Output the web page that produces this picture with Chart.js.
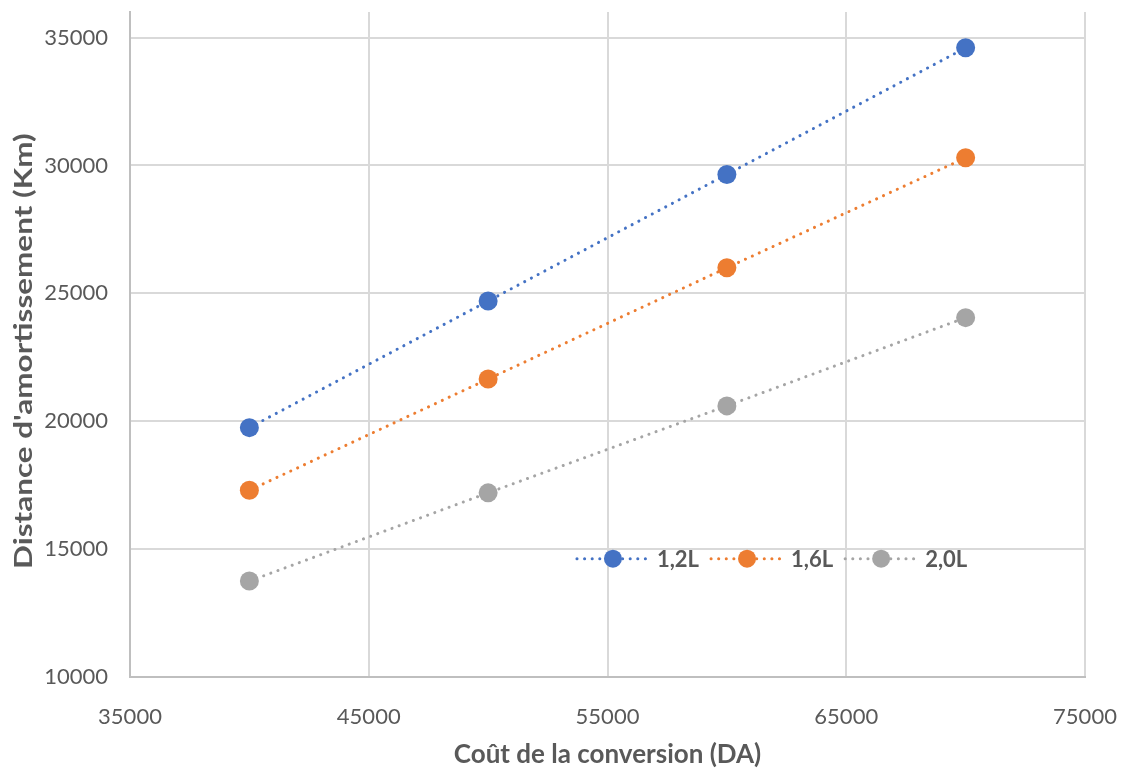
<!DOCTYPE html>
<html>
<head>
<meta charset="utf-8">
<script src="https://cdn.jsdelivr.net/npm/chart.js@4"></script>
<style>
  html, body { margin: 0; padding: 0; background: #fff; }
  #wrap { width: 1124px; height: 776px; }
</style>
</head>
<body>
<div id="wrap"><canvas id="chart" width="1124" height="776"></canvas></div>
<script>
// conversion cost (DA) and payback distance (Km) per engine size
var costs = [40000, 50000, 60000, 70000];
var dist12 = [19750, 24700, 29650, 34600];
var dist16 = [17300, 21650, 26000, 30300];
var dist20 = [13750, 17200, 20600, 24050];
var seriesNames = ['1,2L', '1,6L', '2,0L'];
var seriesColors = ['#4472C4', '#ED7D31', '#A5A5A5'];
var xTicks = [35000, 45000, 55000, 65000, 75000];
var yTicks = [10000, 15000, 20000, 25000, 30000, 35000];
var yTitle = "Distance d'amortissement (Km)";
var xTitle = 'Coût de la conversion (DA)';

var labelColor = '#595959';
var fontFamily = 'Lato, "Open Sans", sans-serif';

function pairs(ys) {
    return costs.map(function (c, i) { return { x: c, y: ys[i] }; });
}

function makeSet(name, ys, color) {
    return {
        label: name,
        data: pairs(ys),
        borderColor: color,
        backgroundColor: color,
        borderWidth: 3,
        borderDash: [0.1, 7.5],
        borderCapStyle: 'round',
        pointRadius: 9.5,
        pointBorderWidth: 0,
        pointBackgroundColor: color,
        showLine: true,
        tension: 0
    };
}

// legend drawn inside the plot, like the spreadsheet one
var insideLegend = {
    id: 'insideLegend',
    afterDatasetsDraw: function (chart) {
        var ctx = chart.ctx;
        var area = chart.chartArea;
        var y = area.top + area.height * 0.822;
        var x = area.left + area.width * 0.468;
        ctx.save();
        ctx.font = 'bold 22px ' + fontFamily;
        ctx.textBaseline = 'middle';
        chart.data.datasets.forEach(function (ds) {
            ctx.strokeStyle = ds.borderColor;
            ctx.lineWidth = 3;
            ctx.lineCap = 'round';
            ctx.setLineDash([0.1, 7.5]);
            ctx.beginPath();
            ctx.moveTo(x, y);
            ctx.lineTo(x + 70, y);
            ctx.stroke();
            ctx.setLineDash([]);
            ctx.fillStyle = ds.borderColor;
            ctx.beginPath();
            ctx.arc(x + 36, y, 9, 0, Math.PI * 2);
            ctx.fill();
            ctx.fillStyle = labelColor;
            ctx.fillText(ds.label, x + 80, y + 1);
            x += 80 + ctx.measureText(ds.label).width + 12;
        });
        ctx.restore();
    }
};

// vertical axis title, stretched along its length
var yAxisTitle = {
    id: 'yAxisTitle',
    afterDraw: function (chart) {
        var ctx = chart.ctx;
        var area = chart.chartArea;
        var len = area.height * 0.655;
        ctx.save();
        ctx.font = 'bold 25px ' + fontFamily;
        var w = ctx.measureText(yTitle).width;
        ctx.translate(24, area.top + area.height * 0.51);
        ctx.rotate(-Math.PI / 2);
        ctx.scale(len / w, 1);
        ctx.fillStyle = labelColor;
        ctx.textAlign = 'center';
        ctx.textBaseline = 'middle';
        ctx.fillText(yTitle, 0, 0);
        ctx.restore();
    }
};

new Chart(document.getElementById('chart').getContext('2d'), {
    type: 'scatter',
    data: {
        datasets: [
            makeSet(seriesNames[0], dist12, seriesColors[0]),
            makeSet(seriesNames[1], dist16, seriesColors[1]),
            makeSet(seriesNames[2], dist20, seriesColors[2])
        ]
    },
    options: {
        responsive: false,
        animation: false,
        layout: { padding: { top: 12, right: 39, left: 0, bottom: 0 } },
        plugins: {
            legend: { display: false },
            tooltip: { enabled: false }
        },
        scales: {
            x: {
                type: 'linear',
                min: 35000,
                max: 75000,
                afterBuildTicks: function (scale) {
                    scale.ticks = xTicks.map(function (v) { return { value: v }; });
                },
                afterFit: function (scale) {
                    scale.height = 99;
                    scale.paddingLeft = 0;
                    scale.paddingRight = 0;
                },
                grid: { color: '#d9d9d9', lineWidth: 2, drawTicks: false },
                border: { color: '#bfbfbf', width: 2 },
                ticks: {
                    color: labelColor,
                    padding: 27,
                    maxRotation: 0,
                    font: { family: fontFamily, size: 22 },
                    callback: function (v) { return String(v); }
                },
                title: {
                    display: true,
                    text: xTitle,
                    color: labelColor,
                    font: { family: fontFamily, size: 26, weight: 'bold' },
                    padding: { top: 6, bottom: 6 }
                }
            },
            y: {
                type: 'linear',
                min: 10000,
                max: 36000,
                afterBuildTicks: function (scale) {
                    scale.ticks = yTicks.map(function (v) { return { value: v }; });
                },
                afterFit: function (scale) {
                    scale.width = 130;
                    scale.paddingTop = 0;
                    scale.paddingBottom = 0;
                },
                grid: { color: '#d9d9d9', lineWidth: 2, drawTicks: false },
                border: { color: '#bfbfbf', width: 2 },
                ticks: {
                    color: labelColor,
                    padding: 22,
                    font: { family: fontFamily, size: 22 },
                    callback: function (v) { return String(v); }
                }
            }
        }
    },
    plugins: [insideLegend, yAxisTitle]
});
</script>
</body>
</html>
